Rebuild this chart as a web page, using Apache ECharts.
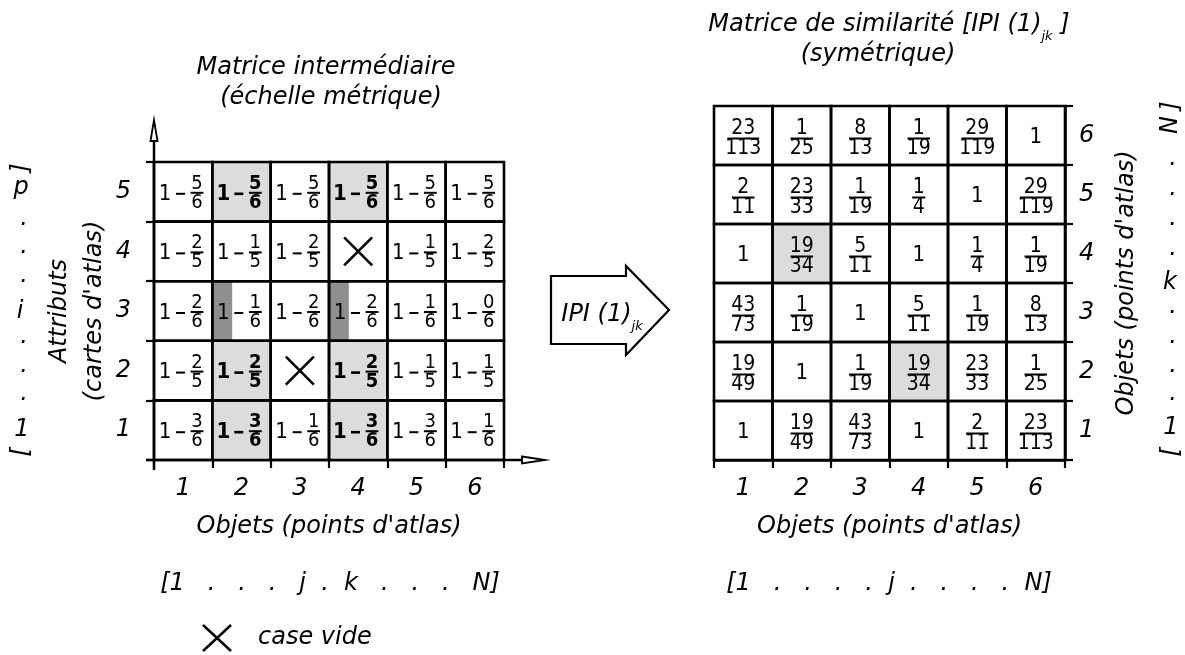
<!DOCTYPE html>
<html lang="fr">
<head>
<meta charset="UTF-8">
<title>Matrice de similarité</title>
<script src="https://cdn.jsdelivr.net/npm/echarts@6/dist/echarts.min.js"></script>
<style>
  html, body { margin: 0; padding: 0; background: #fff; }
  #chart { width: 1185px; height: 655px; }
</style>
</head>
<body>
<div id="chart"></div>
<script>
// axes
var objets = ['1', '2', '3', '4', '5', '6'];
var attributs = ['1', '2', '3', '4', '5'];

// matrice intermédiaire : ligne 1 (bas) -> ligne 5 (haut), 'x' = case vide
var interRows = [
    ['3/6', '3/6', '1/6', '3/6', '3/6', '1/6'],
    ['2/5', '2/5', 'x', '2/5', '1/5', '1/5'],
    ['2/6', '1/6', '2/6', '2/6', '1/6', '0/6'],
    ['2/5', '1/5', '2/5', 'x', '1/5', '2/5'],
    ['5/6', '5/6', '5/6', '5/6', '5/6', '5/6']
];
// cases grisées [colonne, ligne]
var interGris = [[1, 0], [3, 0], [1, 1], [3, 1], [1, 4], [3, 4]];
var interBande = [[1, 2], [3, 2]];

// matrice de similarité : ligne 1 (bas) -> ligne 6 (haut)
var simRows = [
    ['1', '19/49', '43/73', '1', '2/11', '23/113'],
    ['19/49', '1', '1/19', '19/34', '23/33', '1/25'],
    ['43/73', '1/19', '1', '5/11', '1/19', '8/13'],
    ['1', '19/34', '5/11', '1', '1/4', '1/19'],
    ['2/11', '23/33', '1/19', '1/4', '1', '29/119'],
    ['23/113', '1/25', '8/13', '1/19', '29/119', '1']
];
var simGris = [[1, 3], [3, 1]];

var FONT_CELL = "'Liberation Sans Narrow', 'DejaVu Sans Condensed', sans-serif";
var FONT_LAB = "'DejaVu Sans', sans-serif";

function has(list, c, r) {
    return list.some(function (p) { return p[0] === c && p[1] === r; });
}

function texte(t, x, y, size, bold) {
    return {
        type: 'text', z2: 5,
        style: {
            text: t, x: x, y: y, fill: '#000',
            fontSize: size, fontFamily: FONT_CELL, fontWeight: bold ? 'bold' : 'normal',
            align: 'center', verticalAlign: 'middle'
        }
    };
}

function fraction(cx, bar, num, den, size, bold) {
    var cap = size * 0.73;
    var w = Math.max(num.length, den.length) * size * 0.44 + 4;
    return [
        texte(num, cx, bar - 2 - cap / 2, size, bold),
        {
            type: 'line', z2: 5,
            shape: { x1: cx - w / 2, y1: bar, x2: cx + w / 2, y2: bar },
            style: { stroke: '#000', lineWidth: 2 }
        },
        texte(den, cx, bar + 2.5 + cap / 2, size, bold)
    ];
}

function croix(cx, cy, h) {
    var st = { stroke: '#000', lineWidth: 2.6 };
    return [
        { type: 'line', z2: 5, shape: { x1: cx - h, y1: cy - h, x2: cx + h, y2: cy + h }, style: st },
        { type: 'line', z2: 5, shape: { x1: cx - h, y1: cy + h, x2: cx + h, y2: cy - h }, style: st }
    ];
}

function cadre(x0, y0, s) {
    return {
        type: 'rect', z2: 10,
        shape: { x: x0, y: y0, width: s[0], height: s[1] },
        style: { fill: null, stroke: '#000', lineWidth: 2.6 }
    };
}

function renderInter(params, api) {
    var col = api.value(0), row = api.value(1);
    var c = api.coord([col, row]);
    var s = api.size([1, 1]);
    var x0 = c[0] - s[0] / 2, y0 = c[1] - s[1] / 2;
    var v = interRows[row][col];
    var gris = has(interGris, col, row);
    var kids = [];
    if (gris) {
        kids.push({ type: 'rect', z2: 0, shape: { x: x0, y: y0, width: s[0], height: s[1] }, style: { fill: '#dcdcdc' } });
    }
    if (has(interBande, col, row)) {
        kids.push({ type: 'rect', z2: 0, shape: { x: x0, y: y0, width: s[0] * 0.34, height: s[1] }, style: { fill: '#8e8e8e' } });
    }
    if (v === 'x') {
        kids = kids.concat(croix(c[0], c[1], 14));
    } else {
        var p = v.split('/');
        kids.push(texte('1', x0 + 11, c[1] + 2, 22, gris));
        kids.push({
            type: 'line', z2: 5,
            shape: { x1: x0 + 22, y1: c[1] + 2, x2: x0 + 31, y2: c[1] + 2 },
            style: { stroke: '#000', lineWidth: gris ? 2.6 : 2 }
        });
        kids = kids.concat(fraction(x0 + 43, c[1] + 1, p[0], p[1], 20, gris));
    }
    kids.push(cadre(x0, y0, s));
    return { type: 'group', children: kids };
}

function renderSim(params, api) {
    var col = api.value(0), row = api.value(1);
    var c = api.coord([col, row]);
    var s = api.size([1, 1]);
    var x0 = c[0] - s[0] / 2, y0 = c[1] - s[1] / 2;
    var v = simRows[row][col];
    var kids = [];
    if (has(simGris, col, row)) {
        kids.push({ type: 'rect', z2: 0, shape: { x: x0, y: y0, width: s[0], height: s[1] }, style: { fill: '#dcdcdc' } });
    }
    if (v.indexOf('/') < 0) {
        kids.push(texte(v, c[0], c[1] + 2, 22, false));
    } else {
        var p = v.split('/');
        kids = kids.concat(fraction(c[0], c[1] + 3, p[0], p[1], 21, false));
    }
    kids.push(cadre(x0, y0, s));
    return { type: 'group', children: kids };
}

var interData = [];
interRows.forEach(function (r, ri) {
    r.forEach(function (v, ci) { interData.push([ci, ri]); });
});
var simData = [];
simRows.forEach(function (r, ri) {
    r.forEach(function (v, ci) { simData.push([ci, ri]); });
});

var lab = { color: '#000', fontSize: 24, fontStyle: 'italic', fontFamily: FONT_LAB };
var tick = { show: true, length: 8, lineStyle: { color: '#000', width: 2.2 } };
var trait = { stroke: '#000', lineWidth: 2.5 };
var italique = 'italic 24px ' + FONT_LAB;

function motG(t, x, y, rot) {
    return {
        type: 'text', x: x, y: y, rotation: rot ? Math.PI / 2 : 0,
        style: { text: t, font: italique, fill: '#000', align: 'center', verticalAlign: 'middle' }
    };
}

var cotes = [
    motG(']', 22, 168, true), motG('p', 21, 188), motG('.', 24, 219), motG('.', 24, 247), motG('.', 24, 276),
    motG('i', 20, 312), motG('.', 24, 337), motG('.', 24, 366), motG('.', 24, 394), motG('1', 22, 430), motG('[', 22, 452, true),
    motG(']', 1172, 106, true), motG('N', 1171, 125, true), motG('.', 1173, 159), motG('.', 1173, 189), motG('.', 1173, 219), motG('.', 1173, 249),
    motG('k', 1170, 283), motG('.', 1173, 307), motG('.', 1173, 337), motG('.', 1173, 366), motG('.', 1173, 394), motG('1', 1171, 428), motG('[', 1172, 452, true)
];

var titre = { color: '#000', fontSize: 24, fontStyle: 'italic', fontWeight: 'normal', fontFamily: FONT_LAB };

var chart = echarts.init(document.getElementById('chart'));
chart.setOption({
    backgroundColor: '#fff',
    animation: false,
    title: [
        { text: 'Matrice intermédiaire', left: 326, top: 56, textAlign: 'center', padding: 0, textStyle: titre },
        { text: '(échelle métrique)', left: 331, top: 86, textAlign: 'center', padding: 0, textStyle: titre },
        {
            text: 'Matrice de similarité [IPI (1){s|jk} ]', left: 889, top: 7, textAlign: 'center', padding: 0,
            textStyle: Object.assign({
                lineHeight: 36,
                rich: { s: { color: '#000', fontSize: 13, fontStyle: 'italic', fontFamily: FONT_LAB, verticalAlign: 'bottom' } }
            }, titre)
        },
        { text: '(symétrique)', left: 878, top: 43, textAlign: 'center', padding: 0, textStyle: titre }
    ],
    grid: [
        { left: 154, top: 162, width: 350, height: 298, outerBoundsMode: 'none' },
        { left: 714, top: 106, width: 351, height: 354, outerBoundsMode: 'none' }
    ],
    xAxis: [
        {
            gridIndex: 0, type: 'category', data: objets,
            axisLine: { show: false }, axisTick: tick, splitLine: { show: false },
            axisLabel: Object.assign({ margin: 17, interval: 0 }, lab),
            name: "Objets (points d'atlas)", nameLocation: 'middle', nameGap: 55, nameTextStyle: lab
        },
        {
            gridIndex: 1, type: 'category', data: objets,
            axisLine: { show: true, lineStyle: { color: '#000', width: 2.6 } }, axisTick: tick, splitLine: { show: false },
            axisLabel: Object.assign({ margin: 17, interval: 0 }, lab),
            name: "Objets (points d'atlas)", nameLocation: 'middle', nameGap: 55, nameTextStyle: lab
        }
    ],
    yAxis: [
        {
            gridIndex: 0, type: 'category', data: attributs, position: 'left',
            axisLine: { show: false }, axisTick: tick, splitLine: { show: false },
            axisLabel: Object.assign({ margin: 23, interval: 0 }, lab),
            name: "Attributs\n(cartes d'atlas)", nameLocation: 'middle', nameRotate: 90, nameGap: 36,
            nameTextStyle: Object.assign({ lineHeight: 35 }, lab)
        },
        {
            gridIndex: 1, type: 'category', data: objets, position: 'right',
            axisLine: { show: true, lineStyle: { color: '#000', width: 2.6 } }, axisTick: tick, splitLine: { show: false },
            axisLabel: Object.assign({ margin: 14, interval: 0 }, lab),
            name: "Objets (points d'atlas)", nameLocation: 'middle', nameRotate: 90, nameGap: 50, nameTextStyle: lab
        }
    ],
    series: [
        {
            type: 'custom', name: 'intermédiaire', xAxisIndex: 0, yAxisIndex: 0,
            renderItem: renderInter, data: interData, silent: true
        },
        {
            type: 'custom', name: 'similarité', xAxisIndex: 1, yAxisIndex: 1,
            renderItem: renderSim, data: simData, silent: true
        }
    ],
    graphic: [
        // axes de la matrice intermédiaire
        { type: 'line', shape: { x1: 154, y1: 470, x2: 154, y2: 141 }, style: trait },
        { type: 'polygon', shape: { points: [[150.5, 141], [154, 120], [157.5, 141]] }, style: { fill: '#fff', stroke: '#000', lineWidth: 1.8 } },
        { type: 'line', shape: { x1: 146, y1: 460, x2: 522, y2: 460 }, style: trait },
        { type: 'polygon', shape: { points: [[522, 456.5], [545, 460], [522, 463.5]] }, style: { fill: '#fff', stroke: '#000', lineWidth: 1.8 } },
        // flèche de passage
        {
            type: 'polygon',
            shape: { points: [[551, 276], [626, 276], [626, 266], [669, 310], [626, 355], [626, 344], [551, 344]] },
            style: { fill: '#fff', stroke: '#000', lineWidth: 2.2 }
        },
        {
            type: 'text', x: 602, y: 315,
            style: {
                text: 'IPI (1){s|jk}', font: italique, fill: '#000', align: 'center', verticalAlign: 'middle', lineHeight: 36,
                rich: { s: { fontSize: 13, fontStyle: 'italic', fontFamily: FONT_LAB, fill: '#000', verticalAlign: 'bottom' } }
            }
        },
        // indices
        { type: 'text', x: 330, y: 584, style: { text: '[1   .   .   .   j  .  k   .   .   .   N]', font: italique, fill: '#000', align: 'center', verticalAlign: 'middle' } },
        { type: 'text', x: 889, y: 584, style: { text: '[1   .   .   .   .  j  .   .   .   .  N]', font: italique, fill: '#000', align: 'center', verticalAlign: 'middle' } },
        // légende
        { type: 'line', shape: { x1: 203, y1: 625, x2: 231, y2: 651 }, style: trait },
        { type: 'line', shape: { x1: 203, y1: 651, x2: 231, y2: 625 }, style: trait },
        { type: 'text', x: 258, y: 638, style: { text: 'case vide', font: italique, fill: '#000', align: 'left', verticalAlign: 'middle' } }
    ].concat(cotes)
});
</script>
</body>
</html>
